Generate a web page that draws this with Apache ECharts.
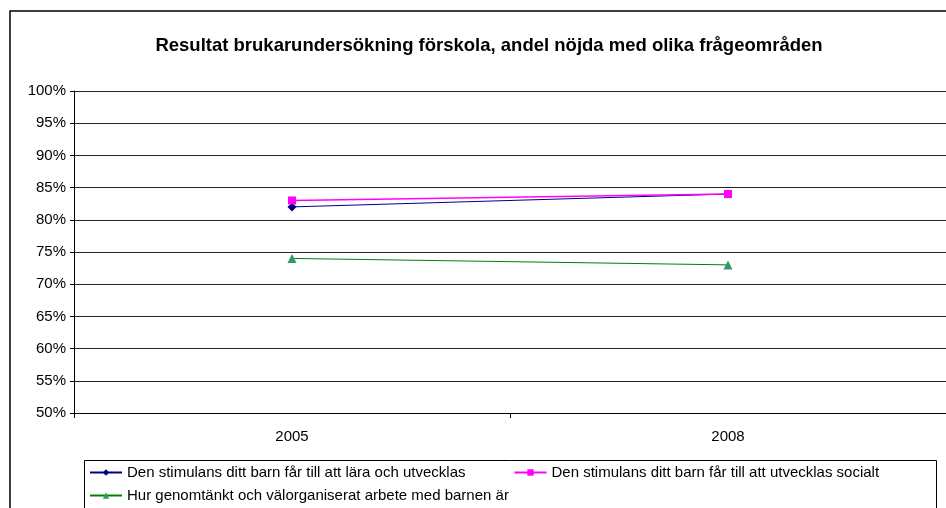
<!DOCTYPE html>
<html>
<head>
<meta charset="utf-8">
<script src="https://cdn.jsdelivr.net/npm/echarts@6/dist/echarts.min.js"></script>
<style>
  html, body { margin: 0; padding: 0; background: #fff; }
  #chart { width: 946px; height: 508px; }
</style>
</head>
<body>
<div id="chart"></div>
<script>
var years = ['2005', '2008'];
var seriesNames = [
    'Den stimulans ditt barn får till att lära och utvecklas',
    'Den stimulans ditt barn får till att utvecklas socialt',
    'Hur genomtänkt och välorganiserat arbete med barnen är'
];
var lara = [0.82, 0.84];
var socialt = [0.83, 0.84];
var arbete = [0.74, 0.73];

var chart = echarts.init(document.getElementById('chart'));
var font = 'Arial, "Liberation Sans", sans-serif';

var legendText = { fontSize: 15, color: '#000', fontFamily: font };

var option = {
    animation: false,
    backgroundColor: '#fff',
    textStyle: { fontFamily: font },
    title: {
        text: 'Resultat brukarundersökning förskola, andel nöjda med olika frågeområden',
        left: 484,
        textAlign: 'center',
        top: 31,
        textStyle: { fontSize: 18.5, fontWeight: 'bold', color: '#000', fontFamily: font }
    },
    graphic: [
        {
            // outer chart frame
            type: 'rect',
            shape: { x: 10, y: 11, width: 960, height: 520 },
            style: { fill: 'none', stroke: '#000', lineWidth: 1.5 },
            silent: true
        },
        {
            // legend frame
            type: 'rect',
            shape: { x: 84.5, y: 460.5, width: 852, height: 60 },
            style: { fill: 'none', stroke: '#000', lineWidth: 1 },
            silent: true
        }
    ],
    legend: [
        {
            left: 89,
            top: 465,
            padding: 0,
            itemGap: 48,
            itemWidth: 32,
            itemHeight: 8,
            textStyle: legendText,
            data: [seriesNames[0], seriesNames[1]]
        },
        {
            left: 89,
            top: 488,
            padding: 0,
            itemWidth: 32,
            itemHeight: 8,
            textStyle: legendText,
            data: [seriesNames[2]]
        }
    ],
    grid: {
        left: 74,
        top: 91,
        bottom: 95,
        right: -3,
        containLabel: false
    },
    xAxis: {
        type: 'category',
        data: years,
        boundaryGap: true,
        axisLine: { lineStyle: { color: '#000', width: 1 } },
        axisTick: { show: true, length: 5, lineStyle: { color: '#000' } },
        axisLabel: { color: '#000', fontSize: 15, margin: 16, fontFamily: font },
        splitLine: { show: false }
    },
    yAxis: {
        type: 'value',
        min: 0.5,
        max: 1,
        interval: 0.05,
        axisLine: { show: true, lineStyle: { color: '#000', width: 1 } },
        axisTick: { show: true, length: 4, lineStyle: { color: '#000' } },
        axisLabel: {
            color: '#000',
            fontSize: 15,
            margin: 8,
            fontFamily: font,
            formatter: function (v) { return Math.round(v * 100) + '%'; }
        },
        splitLine: { show: true, lineStyle: { color: '#222', width: 1 } }
    },
    series: [
        {
            name: seriesNames[0],
            type: 'line',
            data: lara,
            symbol: 'diamond',
            symbolSize: 9,
            itemStyle: { color: '#000080' },
            lineStyle: { color: '#000080', width: 1 }
        },
        {
            name: seriesNames[1],
            type: 'line',
            data: socialt,
            symbol: 'rect',
            symbolSize: 8,
            itemStyle: { color: '#ff00ff' },
            lineStyle: { color: '#ff00ff', width: 1.5 }
        },
        {
            name: seriesNames[2],
            type: 'line',
            data: arbete,
            symbol: 'triangle',
            symbolSize: 9,
            itemStyle: { color: '#339966' },
            lineStyle: { color: '#008000', width: 1 }
        }
    ]
};
chart.setOption(option);
</script>
</body>
</html>
